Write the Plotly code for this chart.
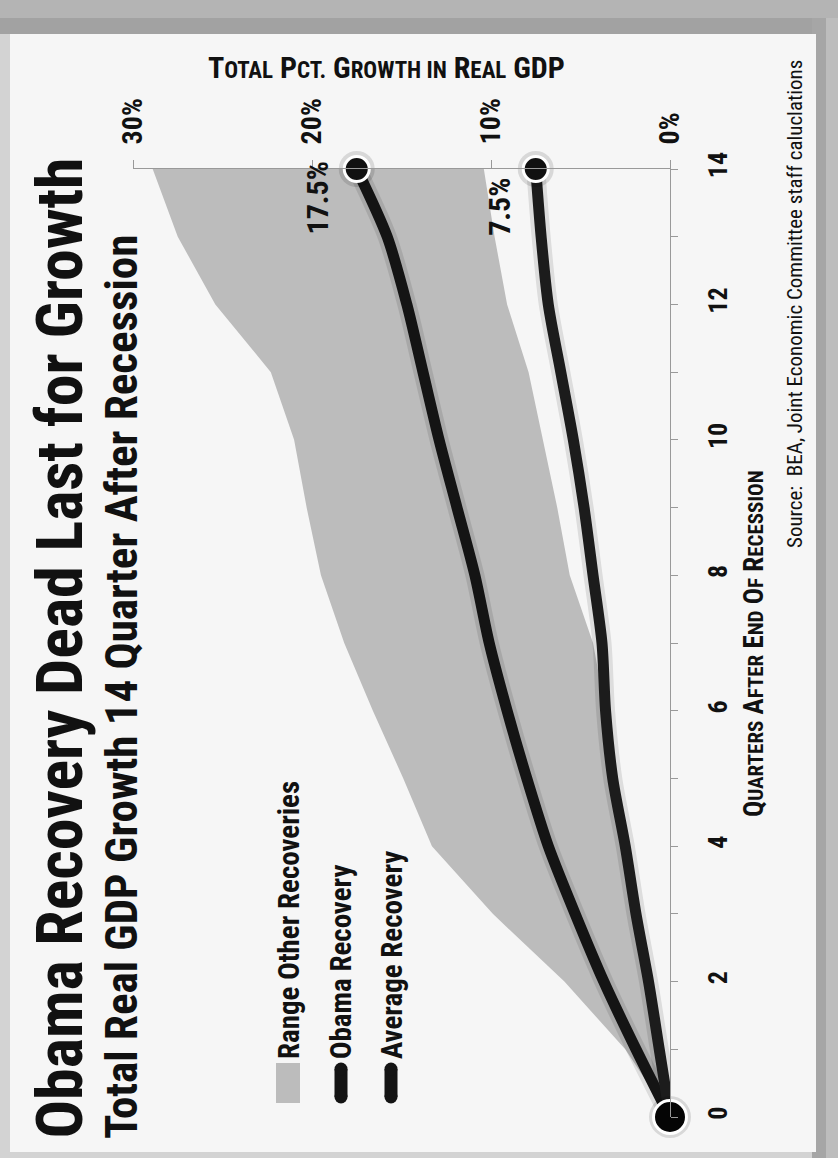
import plotly.graph_objects as go

# ---------------- data ----------------
quarters = list(range(15))
range_upper = [0, 2.5, 5.9, 9.9, 13.3, 14.9, 16.6, 18.2, 19.5, 20.3, 21.0, 22.3, 25.4, 27.5, 28.9]
range_lower = [0, 0.6, 1.2, 1.9, 2.5, 3.2, 3.6, 4.3, 5.6, 6.3, 7.1, 7.9, 9.1, 9.8, 10.4]
obama = [0, 0.6, 1.2, 1.9, 2.5, 3.2, 3.6, 3.8, 4.3, 4.8, 5.4, 6.1, 6.8, 7.2, 7.5]
average = [0, 1.9, 3.7, 5.3, 6.8, 8.0, 9.1, 10.1, 10.9, 11.9, 12.9, 13.8, 14.7, 15.8, 17.5]
pct_ticks = [0, 10, 20, 30]
pct_labels = ["0%", "10%", "20%", "30%"]
q_ticks = [0, 2, 4, 6, 8, 10, 12, 14]

# ---------------- layout geometry ----------------
W, H = 838, 1158
L, R, T, B = 133, 670, 169, 1117


def px(x):
    return (x - L) / (R - L)


def py(y):
    return (B - y) / (B - T)


NARROW = "Roboto Condensed, Open Sans Condensed, Liberation Sans, sans-serif"
INK = "#111111"
RANGE_COL = "#bcbcbc"

fig = go.Figure()

# range of other recoveries
fig.add_trace(go.Scatter(
    x=range_upper + range_lower[::-1],
    y=quarters + quarters[::-1],
    fill="toself", fillcolor=RANGE_COL, mode="lines",
    line=dict(width=0, color=RANGE_COL), hoverinfo="skip",
))

# soft shadows under the lines
for series in (average, obama):
    fig.add_trace(go.Scatter(
        x=series, y=quarters, mode="lines",
        line=dict(color="rgba(0,0,0,0.10)", width=19, shape="spline", smoothing=0.8),
        hoverinfo="skip",
    ))

fig.add_trace(go.Scatter(
    x=average, y=quarters, mode="lines", name="Average Recovery",
    line=dict(color="#141414", width=11, shape="spline", smoothing=0.8),
))
fig.add_trace(go.Scatter(
    x=obama, y=quarters, mode="lines", name="Obama Recovery",
    line=dict(color="#1c1c1c", width=11, shape="spline", smoothing=0.8),
))

# end markers with halo
end_x = [average[-1], obama[-1]]
end_y = [quarters[-1], quarters[-1]]
fig.add_trace(go.Scatter(
    x=end_x, y=end_y, mode="markers", cliponaxis=False,
    marker=dict(size=36, color="rgba(0,0,0,0.12)"), hoverinfo="skip",
))
fig.add_trace(go.Scatter(
    x=end_x, y=end_y, mode="markers", cliponaxis=False,
    marker=dict(size=25, color="#111111", line=dict(color="white", width=3)),
))
fig.add_trace(go.Scatter(
    x=[obama[0]], y=[quarters[0]], mode="markers", cliponaxis=False,
    marker=dict(size=42, color="rgba(0,0,0,0.12)"), hoverinfo="skip",
))
fig.add_trace(go.Scatter(
    x=[obama[0]], y=[quarters[0]], mode="markers", cliponaxis=False,
    marker=dict(size=33, color="#050505", line=dict(color="white", width=3)),
))

shapes = []
# page frame / background
shapes.append(dict(type="rect", xref="paper", yref="paper", layer="below",
                   x0=px(0), x1=px(W), y0=py(0), y1=py(32), fillcolor="#b4b4b4", line_width=0))
shapes.append(dict(type="rect", xref="paper", yref="paper", layer="below",
                   x0=px(0), x1=px(W), y0=py(18), y1=py(34), fillcolor="#a2a2a2", line_width=0))
shapes.append(dict(type="rect", xref="paper", yref="paper", layer="below",
                   x0=px(812), x1=px(W), y0=py(18), y1=py(H), fillcolor="#a6a6a6", line_width=0))
shapes.append(dict(type="rect", xref="paper", yref="paper", layer="below",
                   x0=px(826), x1=px(W), y0=py(18), y1=py(H), fillcolor="#bdbdbd", line_width=0))
shapes.append(dict(type="rect", xref="paper", yref="paper", layer="below",
                   x0=px(10), x1=px(816), y0=py(34), y1=py(1152), fillcolor="#f6f6f6", line_width=0))

# legend swatches
shapes.append(dict(type="rect", xref="paper", yref="paper",
                   x0=px(276), x1=px(300), y0=py(1103), y1=py(1063), fillcolor=RANGE_COL, line_width=0))
for cx in (341, 391):
    shapes.append(dict(type="rect", xref="paper", yref="paper",
                       x0=px(cx - 6.5), x1=px(cx + 6.5), y0=py(1097), y1=py(1069),
                       fillcolor="#141414", line_width=0))
    for cy in (1069, 1097):
        shapes.append(dict(type="circle", xref="paper", yref="paper",
                           x0=px(cx - 6.5), x1=px(cx + 6.5), y0=py(cy + 6.5), y1=py(cy - 6.5),
                           fillcolor="#141414", line_width=0))

annotations = []


def ann(text, x, y, size, angle=-90, bold=True, xanchor="center", yanchor="middle", family=NARROW):
    annotations.append(dict(
        text=text, xref="paper", yref="paper", x=px(x), y=py(y), showarrow=False,
        textangle=angle, xanchor=xanchor, yanchor=yanchor,
        font=dict(family=family, size=size, color=INK, weight="bold" if bold else "normal"),
    ))


ann("Obama Recovery Dead Last for Growth", 60, 1141, 64, yanchor="bottom")
ann("Total Real GDP Growth 14 Quarter After Recession", 121, 1141, 45, yanchor="bottom")

ann("Range Other Recoveries", 289, 1061, 29, yanchor="bottom")
ann("Obama Recovery", 341, 1061, 29, yanchor="bottom")
ann("Average Recovery", 392, 1061, 29, yanchor="bottom")

BIG, SM = 30, 23
ann(f"T<span style='font-size:{SM}px'>OTAL</span> P<span style='font-size:{SM}px'>CT.</span> "
    f"G<span style='font-size:{SM}px'>ROWTH IN</span> R<span style='font-size:{SM}px'>EAL</span> GDP",
    386, 67, BIG, angle=0)

BIG2, SM2 = 27, 21
ann(f"Q<span style='font-size:{SM2}px'>UARTERS</span> A<span style='font-size:{SM2}px'>FTER</span> "
    f"E<span style='font-size:{SM2}px'>ND</span> O<span style='font-size:{SM2}px'>F</span> "
    f"R<span style='font-size:{SM2}px'>ECESSION</span>",
    754, 644, BIG2)

ann("Source:  BEA, Joint Economic Committee staff caluclations", 795, 550, 21, bold=False, yanchor="bottom")

# end value labels
annotations.append(dict(text=f"{average[-1]}%", x=19.7, y=13.57, xref="x", yref="y", showarrow=False,
                        textangle=-90, font=dict(family=NARROW, size=30, color=INK, weight="bold")))
annotations.append(dict(text=f"{obama[-1]}%", x=9.5, y=13.44, xref="x", yref="y", showarrow=False,
                        textangle=-90, font=dict(family=NARROW, size=30, color=INK, weight="bold")))

fig.update_layout(
    width=W, height=H,
    margin=dict(l=L, r=W - R, t=T, b=H - B, autoexpand=False),
    paper_bgcolor="#d3d3d3", plot_bgcolor="rgba(0,0,0,0)",
    showlegend=False,
    shapes=shapes, annotations=annotations,
    xaxis=dict(
        range=[30, 0], side="top", tickvals=pct_ticks, ticktext=pct_labels,
        tickangle=-90, ticks="outside", ticklen=8, tickcolor="#999999",
        ticklabelstandoff=10, showline=True, linecolor="#999999", linewidth=1,
        showgrid=False, zeroline=False,
        tickfont=dict(family=NARROW, size=28, color=INK, weight="bold"),
    ),
    yaxis=dict(
        range=[0, 14], side="right", tickvals=q_ticks,
        tickangle=-90, ticks="outside", ticklen=7, tickcolor="#999999",
        minor=dict(dtick=1, ticks="outside", ticklen=7, tickcolor="#999999"),
        ticklabelstandoff=18, showline=True, linecolor="#999999", linewidth=1,
        showgrid=False, zeroline=False,
        tickfont=dict(family=NARROW, size=26, color=INK, weight="bold"),
    ),
)

fig.write_html("out.html")
